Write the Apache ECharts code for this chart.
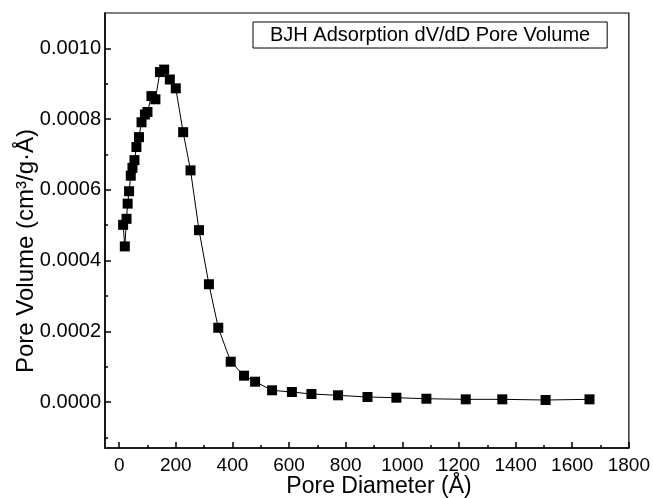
<!DOCTYPE html>
<html>
<head>
<meta charset="utf-8">
<script src="https://cdn.jsdelivr.net/npm/echarts@6/dist/echarts.min.js"></script>
<style>html,body{margin:0;padding:0;background:#fff}#c{width:653px;height:498px}</style>
</head>
<body>
<div id="c"></div>
<script>
var seriesName = 'BJH Adsorption dV/dD Pore Volume';
var diameter = [14, 20, 26, 30, 35, 41, 47, 54, 61, 70, 79, 91, 100, 114, 128, 144, 159, 179, 200, 226, 252, 282, 317, 350, 394, 441, 480, 540, 610, 679, 773, 877, 979, 1085, 1224, 1353, 1506, 1661];
var poreVolume = [0.000501, 0.00044, 0.000518, 0.000561, 0.000596, 0.00064, 0.000662, 0.000684, 0.000721, 0.000749, 0.000791, 0.000813, 0.00082, 0.000865, 0.000856, 0.000933, 0.00094, 0.000912, 0.000887, 0.000763, 0.000655, 0.000486, 0.000333, 0.00021, 0.000114, 0.0000745, 0.0000575, 0.0000331, 0.0000283, 0.0000227, 0.000019, 0.0000142, 0.0000122, 0.0000093, 0.0000076, 0.0000076, 0.0000057, 0.0000076];
var xMajor = [0, 200, 400, 600, 800, 1000, 1200, 1400, 1600, 1800];
var xMinor = [100, 300, 500, 700, 900, 1100, 1300, 1500, 1700];
var yMajor = [0, 0.0002, 0.0004, 0.0006, 0.0008, 0.0010];
var yMinor = [-0.0001, 0.0001, 0.0003, 0.0005, 0.0007, 0.0009];
var xTitle = 'Pore Diameter (Å)';
var yTitle = 'Pore Volume (cm³/g·Å)';

var FONT = '"Liberation Sans", Arial, sans-serif';
var data = diameter.map(function (d, i) { return [d, poreVolume[i]]; });
var gridPos = { left: 105, right: 24, top: 13, bottom: 50 };

var chart = echarts.init(document.getElementById('c'), null, { renderer: 'canvas' });
chart.setOption({
  animation: false,
  backgroundColor: '#fff',
  textStyle: { fontFamily: FONT },
  grid: [
    Object.assign({ show: true, borderColor: '#000', borderWidth: 1.2, backgroundColor: 'transparent' }, gridPos),
    Object.assign({ show: false }, gridPos)
  ],
  legend: {
    data: [seriesName],
    left: 253, top: 22,
    icon: 'none', itemWidth: 0, itemHeight: 0, itemGap: 0,
    borderColor: '#000', borderWidth: 1, padding: [3, 17, 3, 12],
    textStyle: { fontFamily: FONT, fontSize: 20, color: '#000' },
    selectedMode: false
  },
  xAxis: [{
    type: 'value', gridIndex: 0, min: -50, max: 1800,
    axisLine: { show: true, onZero: false, lineStyle: { color: '#000', width: 1.5 } },
    axisTick: { show: true, inside: true, length: 6, customValues: xMajor, lineStyle: { color: '#000', width: 1.5 } },
    axisLabel: { customValues: xMajor, fontSize: 19, color: '#000', margin: 8, fontFamily: FONT,
      formatter: function (v) { return String(v); } },
    splitLine: { show: false }
  }, {
    type: 'value', gridIndex: 1, min: -50, max: 1800, position: 'bottom',
    axisLine: { show: false, onZero: false },
    axisTick: { show: true, inside: true, length: 3, customValues: xMinor, lineStyle: { color: '#000', width: 1.5 } },
    axisLabel: { show: false },
    splitLine: { show: false }
  }],
  yAxis: [{
    type: 'value', gridIndex: 0, min: -0.00013, max: 0.0011,
    axisLine: { show: true, onZero: false, lineStyle: { color: '#000', width: 1.5 } },
    axisTick: { show: true, inside: true, length: 6, customValues: yMajor, lineStyle: { color: '#000', width: 1.5 } },
    axisLabel: { customValues: yMajor, fontSize: 20, color: '#000', margin: 4, fontFamily: FONT,
      formatter: function (v) { return v.toFixed(4); } },
    splitLine: { show: false }
  }, {
    type: 'value', gridIndex: 1, min: -0.00013, max: 0.0011, position: 'left',
    axisLine: { show: false, onZero: false },
    axisTick: { show: true, inside: true, length: 3, customValues: yMinor, lineStyle: { color: '#000', width: 1.5 } },
    axisLabel: { show: false },
    splitLine: { show: false }
  }],
  graphic: [{
    type: 'text', x: 379, y: 487,
    style: { text: xTitle, font: '23px ' + FONT, fill: '#000', textAlign: 'center', textVerticalAlign: 'middle' }
  }, {
    type: 'text', x: 26, y: 251, rotation: Math.PI / 2,
    style: { text: yTitle, font: '24px ' + FONT, fill: '#000', textAlign: 'center', textVerticalAlign: 'middle' }
  }],
  series: [{
    name: seriesName,
    type: 'line',
    xAxisIndex: 0, yAxisIndex: 0,
    data: data,
    symbol: 'rect', symbolSize: 10,
    showAllSymbol: true,
    itemStyle: { color: '#000' },
    lineStyle: { color: '#000', width: 1 },
    emphasis: { disabled: true }
  }]
});
</script>
</body>
</html>
